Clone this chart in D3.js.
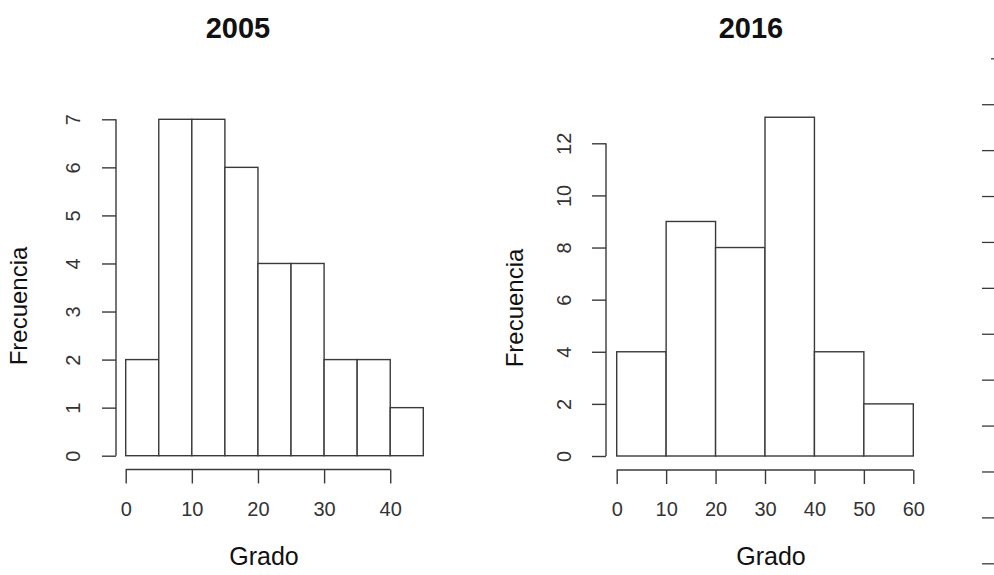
<!DOCTYPE html>
<html>
<head>
<meta charset="utf-8">
<script src="https://cdn.jsdelivr.net/npm/d3@7"></script>
<style>
  html, body { margin: 0; padding: 0; background: #fff; }
  svg { display: block; }
  text { font-family: "Liberation Sans", Arial, Helvetica, sans-serif; }
</style>
</head>
<body>
<svg id="chart" width="994" height="575"></svg>
<script>
// ---- Data ----
const titles = ["2005", "2016"];
const xLabel = "Grado";
const yLabel = "Frecuencia";

const bins2005 = [0, 5, 10, 15, 20, 25, 30, 35, 40, 45];
const counts2005 = [2, 7, 7, 6, 4, 4, 2, 2, 1];
const xTicks2005 = [0, 10, 20, 30, 40];
const yTicks2005 = [0, 1, 2, 3, 4, 5, 6, 7];

const bins2016 = [0, 10, 20, 30, 40, 50, 60];
const counts2016 = [4, 9, 8, 13, 4, 2];
const xTicks2016 = [0, 10, 20, 30, 40, 50, 60];
const yTicks2016 = [0, 2, 4, 6, 8, 10, 12];

// ticks of a third (cut-off) panel at the right edge
const edgeTicks = [0, 1, 2, 3, 4, 5, 6, 7, 8, 9, 10, 11];

// ---- Drawing ----
const svg = d3.select("#chart");
const ink = "#3a3a3a";

function panel(cfg) {
  const g = svg.append("g");
  const x = d3.scaleLinear().domain(cfg.xDomain).range(cfg.xRange);
  const y = d3.scaleLinear().domain(cfg.yDomain).range(cfg.yRange);

  const data = cfg.counts.map((c, i) => ({ x0: cfg.bins[i], x1: cfg.bins[i + 1], n: c }));
  g.selectAll("rect.bar").data(data).enter().append("rect")
    .attr("class", "bar")
    .attr("x", d => x(d.x0))
    .attr("y", d => y(d.n))
    .attr("width", d => x(d.x1) - x(d.x0))
    .attr("height", d => y(0) - y(d.n))
    .attr("fill", "#fff")
    .attr("stroke", ink)
    .attr("stroke-width", 1.4);

  // x axis
  const xa = g.append("g")
    .attr("transform", `translate(0,${cfg.xAxisY})`)
    .call(d3.axisBottom(x).tickValues(cfg.xTicks).tickSize(14).tickSizeOuter(0).tickFormat(d3.format("d")));
  xa.select(".domain").remove();
  xa.append("line")
    .attr("x1", x(cfg.xTicks[0])).attr("x2", x(cfg.xTicks[cfg.xTicks.length - 1]))
    .attr("y1", 0).attr("y2", 0)
    .attr("stroke", ink).attr("stroke-width", 1.4);
  xa.selectAll(".tick line").attr("stroke", ink).attr("stroke-width", 1.4);
  xa.selectAll(".tick text")
    .attr("y", 0).attr("dy", 0)
    .attr("transform", "translate(0,46)")
    .attr("font-size", 20)
    .attr("fill", "#333")
    .style("font-family", "'Liberation Sans', Arial, sans-serif");

  // y axis
  const ya = g.append("g")
    .attr("transform", `translate(${cfg.yAxisX},0)`)
    .call(d3.axisLeft(y).tickValues(cfg.yTicks).tickSize(14).tickSizeOuter(0).tickFormat(d3.format("d")));
  ya.select(".domain").remove();
  ya.append("line")
    .attr("x1", 0).attr("x2", 0)
    .attr("y1", y(cfg.yTicks[0])).attr("y2", y(cfg.yTicks[cfg.yTicks.length - 1]))
    .attr("stroke", ink).attr("stroke-width", 1.4);
  ya.selectAll(".tick line").attr("stroke", ink).attr("stroke-width", 1.4);
  ya.selectAll(".tick text")
    .attr("x", 0).attr("dy", 0)
    .attr("text-anchor", "middle")
    .attr("transform", `translate(${cfg.yLabelBase - cfg.yAxisX},0) rotate(-90)`)
    .attr("font-size", 20)
    .attr("fill", "#333")
    .style("font-family", "'Liberation Sans', Arial, sans-serif");

  // titles
  svg.append("text")
    .attr("x", cfg.titleX).attr("y", 38)
    .attr("text-anchor", "middle")
    .attr("font-size", 29).attr("font-weight", "bold")
    .attr("fill", "#111")
    .text(cfg.title);

  svg.append("text")
    .attr("x", cfg.xLabX).attr("y", 565)
    .attr("text-anchor", "middle")
    .attr("font-size", 25)
    .attr("fill", "#111")
    .text(xLabel);

  svg.append("text")
    .attr("transform", `translate(${cfg.yLabBase},${cfg.yLabY}) rotate(-90)`)
    .attr("text-anchor", "middle")
    .attr("font-size", 24)
    .attr("fill", "#111")
    .text(yLabel);
}

panel({
  title: titles[0], bins: bins2005, counts: counts2005,
  xTicks: xTicks2005, yTicks: yTicks2005,
  xDomain: [0, 45], xRange: [125.7, 423.3],
  yDomain: [0, 7], yRange: [455.7, 119.3],
  xAxisY: 469.5, yAxisX: 116, yLabelBase: 80,
  titleX: 238, xLabX: 264, yLabBase: 27, yLabY: 306
});

panel({
  title: titles[1], bins: bins2016, counts: counts2016,
  xTicks: xTicks2016, yTicks: yTicks2016,
  xDomain: [0, 60], xRange: [616.7, 913.3],
  yDomain: [0, 12], yRange: [456, 143.3],
  xAxisY: 470, yAxisX: 606, yLabelBase: 571,
  titleX: 751, xLabX: 771, yLabBase: 523, yLabY: 308
});

// right-edge ticks of a cropped third panel
const ey = d3.scaleLinear().domain([0, 11]).range([563.3, 58.3]);
const ea = svg.append("g")
  .attr("transform", "translate(995,0)")
  .call(d3.axisLeft(ey).tickValues(edgeTicks).tickSize(13).tickFormat(""));
ea.select(".domain").remove();
ea.selectAll(".tick line").attr("stroke", ink).attr("stroke-width", 1.3);
ea.selectAll(".tick line").filter(d => d === 11).attr("x2", -4);
</script>
</body>
</html>
